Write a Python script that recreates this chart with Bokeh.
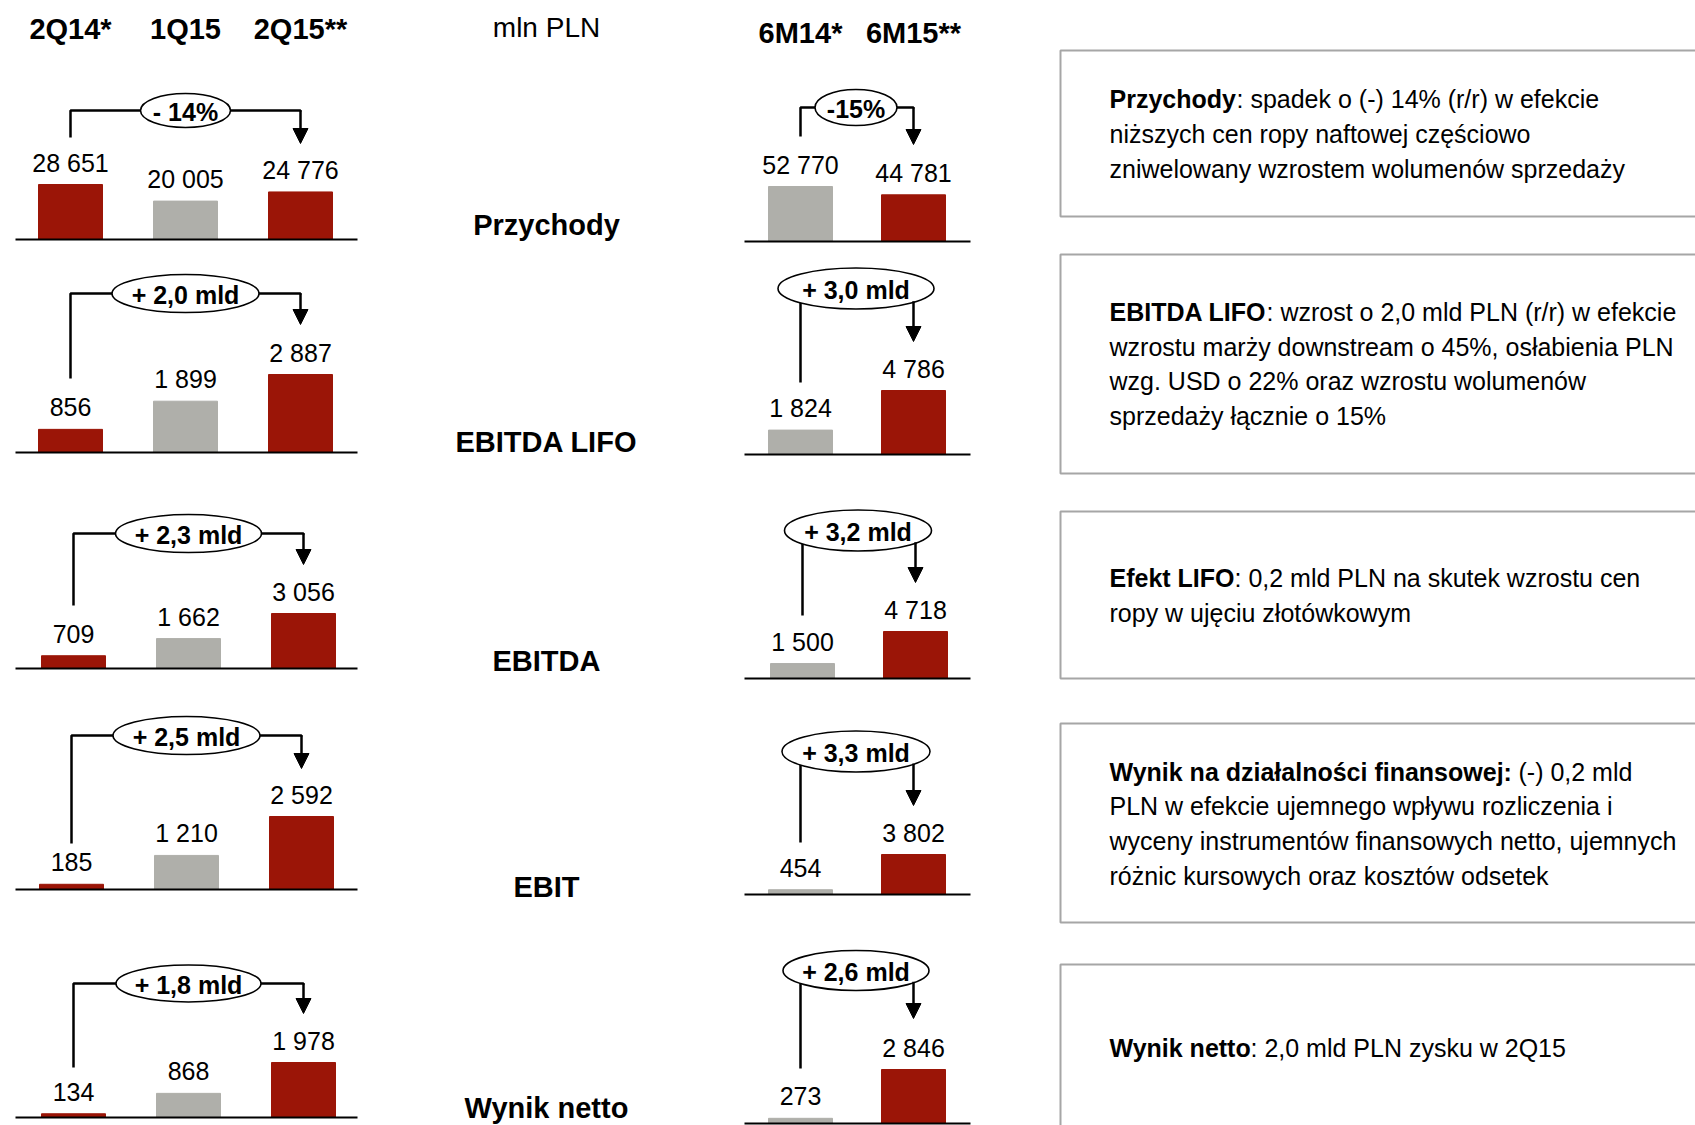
from bokeh.plotting import figure
from bokeh.models import Range1d, Arrow, NormalHead, ColumnDataSource
from bokeh.core.properties import value
from bokeh.embed import file_html
from bokeh.resources import INLINE

FONT = "Liberation Sans"
RED = "#9b1507"
GREY = "#afafaa"

# ---------------- data ----------------
quarters = ["2Q14*", "1Q15", "2Q15**"]
halves = ["6M14*", "6M15**"]
metrics = ["Przychody", "EBITDA LIFO", "EBITDA", "EBIT", "Wynik netto"]
unit_label = "mln PLN"

przychody_q = [28651, 20005, 24776]
ebitda_lifo_q = [856, 1899, 2887]
ebitda_q = [709, 1662, 3056]
ebit_q = [185, 1210, 2592]
netto_q = [134, 868, 1978]

przychody_h = [52770, 44781]
ebitda_lifo_h = [1824, 4786]
ebitda_h = [1500, 4718]
ebit_h = [454, 3802]
netto_h = [273, 2846]

change_q = ["- 14%", "+ 2,0 mld", "+ 2,3 mld", "+ 2,5 mld", "+ 1,8 mld"]
change_h = ["-15%", "+ 3,0 mld", "+ 3,2 mld", "+ 3,3 mld", "+ 2,6 mld"]

q_series = [przychody_q, ebitda_lifo_q, ebitda_q, ebit_q, netto_q]
h_series = [przychody_h, ebitda_lifo_h, ebitda_h, ebit_h, netto_h]
q_colors = [RED, GREY, RED]
h_colors = [GREY, RED]

comments = [
    ("Przychody", ": spadek o (-) 14% (r/r) w efekcie",
     ["niższych cen ropy naftowej częściowo",
      "zniwelowany wzrostem wolumenów sprzedaży"]),
    ("EBITDA LIFO", ": wzrost o 2,0 mld PLN (r/r) w efekcie",
     ["wzrostu marży downstream o 45%, osłabienia PLN",
      "wzg. USD o 22% oraz wzrostu wolumenów",
      "sprzedaży łącznie o 15%"]),
    ("Efekt LIFO", ":  0,2 mld PLN na skutek wzrostu cen",
     ["ropy w ujęciu złotówkowym"]),
    ("Wynik na działalności finansowej:", " (-) 0,2 mld",
     ["PLN w efekcie ujemnego wpływu rozliczenia i",
      "wyceny instrumentów finansowych netto, ujemnych",
      "różnic kursowych oraz kosztów odsetek"]),
    ("Wynik netto", ": 2,0 mld PLN zysku w 2Q15", []),
]

# ---------------- layout (reference pixel coordinates) ----------------
q_x = [70, 185, 300]
h_x = [800, 913]
q_dx = [0, 0, 3, 1, 3]
h_dx = [0, 0, 2, 0, 0]
q_base = [239, 452, 668, 889, 1117]
h_base = [241, 454, 678, 894, 1123]
q_maxpx = [55, 78, 55, 73, 55]
h_maxpx = [55, 64, 47, 40, 54]
q_line_y = [110, 293, 533, 735, 983]
q_left_bottom = [137, 378, 605, 843, 1067]
q_tip = [143, 324, 564, 768, 1013]
q_ell_w = [90, 147, 146, 147, 145]
q_ell_h = [34, 38, 38, 38, 37]
h_line_y = [107, 288, 530, 751, 970]
h_left_bottom = [136, 382, 615, 842, 1068]
h_tip = [144, 341, 582, 805, 1018]
h_ell_w = [82, 156, 147, 148, 146]
h_ell_h = [36, 41, 41, 41, 40]
metric_y = [224, 441, 660, 886, 1107]
box_tb = [(50, 216), (254, 473), (511, 678), (723, 922), (964, 1150)]
text_y = [[98, 133, 168], [311, 346, 380, 415], [577, 612], [771, 805, 840, 875], [1047]]
rest_x = [1236, 1266, 1234, 1518, 1250]

W, H = 1695, 1125
Y_TOP, Y_BOT = 0, 1125

p = figure(width=W, height=H, x_range=Range1d(0, W), y_range=Range1d(Y_BOT, Y_TOP),
           output_backend="svg", toolbar_location=None,
           x_axis_location=None, y_axis_location=None, min_border=0)
p.grid.visible = False
p.outline_line_color = None
p.background_fill_color = "white"

def fmt(v):
    return f"{v:,}".replace(",", " ")

def panel(name, vals, xs, colors, base, maxpx, width=64):
    k = maxpx / max(vals)
    p.extra_y_ranges[name] = Range1d(start=(base - Y_BOT) / k, end=(base - Y_TOP) / k)
    src = ColumnDataSource(dict(x=xs, top=vals, color=colors, label=[fmt(v) for v in vals]))
    p.vbar(x="x", top="top", bottom=0, width=width, color="color", source=src, y_range_name=name)
    p.text(x="x", y="top", text="label", source=src, y_range_name=name,
           text_align="center", text_baseline="alphabetic", y_offset=-22,
           text_font=value(FONT), text_font_size="25px", text_color="black")

def bracket(xl, xr, yl, lb, tip, cx, ew, eh, label):
    dx = abs(xr - cx)
    if dx < ew / 2:
        y_edge = yl + (eh / 2) * (1 - (2 * dx / ew) ** 2) ** 0.5 - 1
    else:
        y_edge = yl
    p.line([xl, xl, xr, xr], [lb, yl, yl, y_edge + 1], line_color="black", line_width=2.5)
    p.ellipse(x=[cx], y=[yl], width=[ew], height=[eh], fill_color="white",
              line_color="black", line_width=1.6)
    p.add_layout(Arrow(end=NormalHead(size=15, fill_color="black", line_color="black"),
                       x_start=xr, y_start=y_edge, x_end=xr, y_end=tip,
                       line_color="black", line_width=2.5))
    p.text(x=[cx], y=[yl + 1], text=[label], text_align="center", text_baseline="middle",
           text_font=value(FONT), text_font_style="bold", text_font_size="25px")

# headers
p.text(x=q_x, y=[28] * 3, text=quarters, text_align="center", text_baseline="middle",
       text_font=value(FONT), text_font_style="bold", text_font_size="29px")
p.text(x=h_x, y=[32] * 2, text=halves, text_align="center", text_baseline="middle",
       text_font=value(FONT), text_font_style="bold", text_font_size="29px")
p.text(x=[546], y=[27], text=[unit_label], text_align="center", text_baseline="middle",
       text_font=value(FONT), text_font_size="28px")

for i in range(5):
    xs = [x + q_dx[i] for x in q_x]
    panel(f"q{i}", q_series[i], xs, q_colors, q_base[i], q_maxpx[i])
    p.line([15, 357], [q_base[i], q_base[i]], line_color="black", line_width=2)
    bracket(xs[0], xs[2], q_line_y[i], q_left_bottom[i], q_tip[i], xs[1], q_ell_w[i], q_ell_h[i], change_q[i])

    hx = [x + h_dx[i] for x in h_x]
    panel(f"h{i}", h_series[i], hx, h_colors, h_base[i], h_maxpx[i])
    p.line([744, 970], [h_base[i], h_base[i]], line_color="black", line_width=2)
    bracket(hx[0], hx[1], h_line_y[i], h_left_bottom[i], h_tip[i], (hx[0] + hx[1]) / 2 - 1,
            h_ell_w[i], h_ell_h[i], change_h[i])

# metric names
p.text(x=[546] * 5, y=metric_y, text=metrics, text_align="center", text_baseline="middle",
       text_font=value(FONT), text_font_style="bold", text_font_size="29px")

# comment boxes
p.quad(left=[1060] * 5, right=[1760] * 5, top=[t for t, b in box_tb], bottom=[b for t, b in box_tb],
       fill_color=None, line_color="#a6a6a6", line_width=2)
for i, (bold, rest, lines) in enumerate(comments):
    ys = text_y[i]
    p.text(x=[1109], y=[ys[0]], text=[bold], text_baseline="middle", text_align="left",
           text_font=value(FONT), text_font_style="bold", text_font_size="25px")
    p.text(x=[rest_x[i]], y=[ys[0]], text=[rest], text_baseline="middle", text_align="left",
           text_font=value(FONT), text_font_size="25px")
    if lines:
        p.text(x=[1109] * len(lines), y=ys[1:], text=lines, text_baseline="middle", text_align="left",
               text_font=value(FONT), text_font_size="25px")

open("out.html", "w").write(file_html(p, INLINE))
